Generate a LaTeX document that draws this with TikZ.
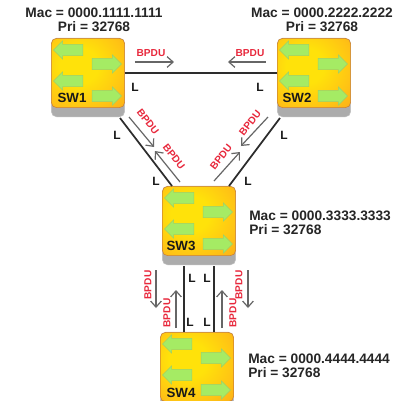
\documentclass[tikz,border=0pt]{standalone}
\usepackage{fontspec}
\setmainfont{Liberation Sans}
\usetikzlibrary{shapes.arrows,arrows.meta}
\definecolor{swyellow}{RGB}{255,226,10}
\definecolor{swmid}{RGB}{255,196,20}
\definecolor{sworange}{RGB}{246,140,30}
\definecolor{swgreen}{RGB}{165,235,100}
\definecolor{bpdured}{RGB}{232,40,60}
\definecolor{linkdark}{RGB}{45,45,45}
\pgfdeclareradialshading{swshade}{\pgfpoint{-7bp}{6bp}}{
  color(0bp)=(swyellow); color(13bp)=(swyellow); color(30bp)=(swmid); color(60bp)=(sworange); color(100bp)=(sworange)}
\tikzset{
  swface/.style={rounded corners=4pt,draw=orange!60!gray,minimum width=55pt,minimum height=52pt,inner sep=0pt,
    shading=swshade},
  swbase/.style={rounded corners=4pt,fill=gray!65,draw=gray!50,minimum width=55pt,minimum height=59pt,inner sep=0pt},
  swname/.style={font=\bfseries\fontsize{10}{10}\selectfont,text=black!90},
  leftarrow/.style={single arrow,shape border rotate=180,draw=swgreen!75!gray,fill=swgreen,minimum height=22pt,inner sep=4pt,
    single arrow head extend=2.6pt,single arrow head indent=0pt},
  rightarrow/.style={leftarrow,shape border rotate=0},
  info/.style={font=\bfseries\fontsize{10.3}{10.6}\selectfont,text=black!85,inner sep=0pt},
  tag/.style={font=\bfseries\fontsize{7.6}{8}\selectfont,text=bpdured,inner sep=0pt},
  portl/.style={font=\bfseries\fontsize{9}{9}\selectfont,text=black!90,inner sep=0pt},
  link/.style={linkdark,line width=1.3pt},
  bpdu/.style={-{Straight Barb[length=4.5pt,width=8pt]},black!60,line width=0.9pt}
}
% #1 name, #2 #3 top left corner
\newcommand{\switch}[3]{
  \begin{scope}[shift={(#2,#3)}]
    \node[swbase] (#1base) at (37,39.5) {};
    \node[swface] (#1) at (37,35) {};
    \node[leftarrow] (#1a) at (20,12) {};
    \node[rightarrow] (#1b) at (53,26) {};
    \node[leftarrow] (#1c) at (20,43) {};
    \node[rightarrow] (#1d) at (53,58) {};
  \end{scope}
}
\begin{document}
\begin{tikzpicture}[x=0.75pt,y=-0.75pt]
  \useasboundingbox (0,0) rectangle (405,401);
  \clip (0,0) rectangle (405,401);
  \fill[white] (0,0) rectangle (405,401);

  \switch{sw1}{51}{38}
  \switch{sw2}{277}{38}
  \switch{sw3}{162}{186}
  \switch{sw4}{160}{332}
  \node[swname] (name1) at (72,98) {SW1};
  \node[swname] (name2) at (297,98) {SW2};
  \node[swname] (name3) at (181,246) {SW3};
  \node[swname] (name4) at (181,393) {SW4};

  \node[info,align=center] (info1) at (94,20) {Mac = 0000.1111.1111\\Pri = 32768};
  \node[info,align=center] (info2) at (322,20) {Mac = 0000.2222.2222\\Pri = 32768};
  \node[info,align=left,anchor=west] (info3) at (249,223) {Mac = 0000.3333.3333\\Pri = 32768};
  \node[info,align=left,anchor=west] (info4) at (248,366) {Mac = 0000.4444.4444\\Pri = 32768};

  % links
  \coordinate (a1) at (120,118);
  \coordinate (a3) at (172,186);
  \coordinate (b2) at (280,118);
  \coordinate (b3) at (229,186);
  \coordinate (c3) at (184,266);
  \coordinate (c4) at (184,332);
  \coordinate (d3) at (214,266);
  \coordinate (d4) at (214,332);
  \draw[link] (sw1.east) -- (sw2.west);
  \draw[link] (a1) -- (a3);
  \draw[link] (b2) -- (b3);
  \draw[link] (c3) -- (c4);
  \draw[link] (d3) -- (d4);

  % bpdu arrows
  \draw[bpdu] (135,62) -- (174,62);
  \draw[bpdu] (266,62) -- (228,62);
  \draw[bpdu] (129,117) -- (154,147);
  \draw[bpdu] (180,182) -- (155,151);
  \draw[bpdu] (268,117) -- (241,146);
  \draw[bpdu] (214,181) -- (240,152);
  \draw[bpdu] (156,270) -- (156,308);
  \draw[bpdu] (176,328) -- (176,290);
  \draw[bpdu] (248,270) -- (248,308);
  \draw[bpdu] (222,328) -- (222,290);

  \node[tag] (t1) at (151,53) {BPDU};
  \node[tag] (t2) at (250,53) {BPDU};
  \node[tag,rotate=-52] (t3) at (148,122) {BPDU};
  \node[tag,rotate=-52] (t4) at (174,157) {BPDU};
  \node[tag,rotate=52] (t5) at (250,123) {BPDU};
  \node[tag,rotate=52] (t6) at (221,157) {BPDU};
  \node[tag,rotate=90] (t7) at (148,285) {BPDU};
  \node[tag,rotate=90] (t8) at (167,313) {BPDU};
  \node[tag,rotate=90] (t9) at (239,285) {BPDU};
  \node[tag,rotate=90] (t10) at (233,313) {BPDU};

  \node[portl] (l1) at (135,87) {L};
  \node[portl] (l2) at (260,87) {L};
  \node[portl] (l3) at (117,135) {L};
  \node[portl] (l4) at (284,135) {L};
  \node[portl] (l5) at (156,181) {L};
  \node[portl] (l6) at (248,181) {L};
  \node[portl] (l7) at (192,278) {L};
  \node[portl] (l8) at (207,278) {L};
  \node[portl] (l9) at (190,322) {L};
  \node[portl] (l10) at (207,322) {L};
\end{tikzpicture}
\end{document}
